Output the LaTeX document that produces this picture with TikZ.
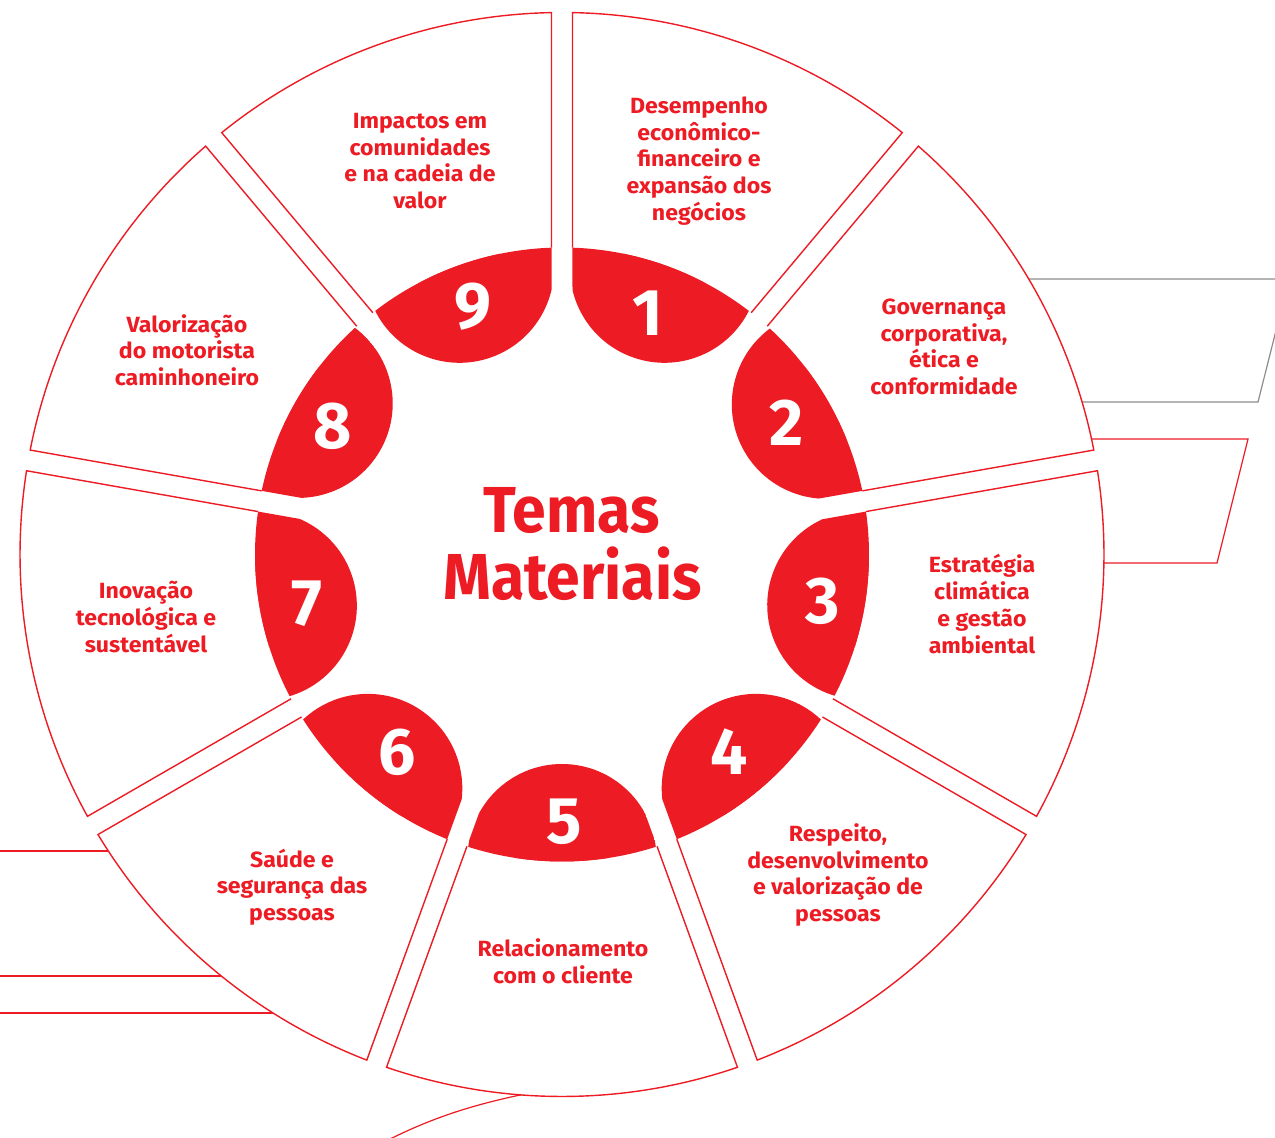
\documentclass[tikz,border=0pt]{standalone}
\usepackage{fontspec}
\setmainfont{Fira Sans}
\newfontfamily\panelfont{Fira Sans}[FakeStretch=1.05]
\newfontfamily\titlefont{Fira Sans}[FakeStretch=0.935]
\definecolor{brandred}{HTML}{ED1C24}
\definecolor{rulegrey}{HTML}{8C8C8C}
\begin{document}
\begin{tikzpicture}[x=1pt,y=1pt,
  seglabel/.style={text=brandred, font=\panelfont\bfseries\fontsize{22}{26.7}\selectfont, align=center, inner sep=0pt},
  numlabel/.style={text=white, font=\bfseries\fontsize{66}{66}\selectfont, inner sep=0pt},
  titlelabel/.style={text=brandred, font=\titlefont\bfseries\fontsize{65}{65}\selectfont, inner sep=0pt, anchor=base},
  outline/.style={draw=brandred, line width=1.4pt, line join=miter},
  deco/.style={line width=1.2pt}]
\useasboundingbox (0,0) rectangle (1275,1138);
\clip (0,0) rectangle (1275,1138);

% decorative rules running behind the wheel
\draw[deco, rulegrey] (1000,859) -- (1289,859) -- (1258,736) -- (1000,736);
\draw[deco, brandred] (1000,699) -- (1248,699) -- (1217,575) -- (1000,575);
\draw[deco, brandred] (0,287) -- (150,287);
\draw[deco, brandred] (0,162) -- (260,162);
\draw[deco, brandred] (0,125) -- (310,125);
\draw[deco, brandred] (386,-3) .. controls (428,18) and (468,33) .. (535,46);

% the wheel: nine panels, each with a red tab on its inner side
\begin{scope}[shift={(562,583.5)}]
\foreach \t/\d in {70/0.3, 30/-0.4, -10/0.4, -50/-0.3, -90/0, -130/0.3, -170/-0.3, 150/0.2, 110/-0.3}{
  \fill[white] ({\t+18.04}:307) -- ({\t+18.89}:542)
     arc[start angle={\t+18.89}, end angle={\t-18.89}, radius=542]
     -- ({\t-18.04}:307)
     arc[start angle={\t-18.04}, end angle={\t+18.04}, radius=307] -- cycle;
  \draw[outline] ({\t+18.04}:307) -- ({\t+18.89}:542)
     arc[start angle={\t+18.89}, end angle={\t-18.89}, radius=542]
     -- ({\t-18.04}:307);
  \begin{scope}
    \clip ({\t+18.04}:307) -- (\t:30.7) -- ({\t-18.04}:307)
       arc[start angle={\t-18.04}, end angle={\t+18.04}, radius=307] -- cycle;
    \begin{scope}[rotate={\t+\d}]
      \fill[brandred] (304,0) circle[radius=94.5];
      \fill[brandred] (304,-94.5) rectangle (330,94.5);
    \end{scope}
  \end{scope}
}
\end{scope}

% tab numbers
\node[numlabel] (n1) at (648,825) {1};
\node[numlabel] (n2) at (787,715) {2};
\node[numlabel] (n3) at (823,537) {3};
\node[numlabel] (n4) at (729,386) {4};
\node[numlabel] (n5) at (564,316) {5};
\node[numlabel] (n6) at (397,386) {6};
\node[numlabel] (n7) at (307,534) {7};
\node[numlabel] (n8) at (333,712) {8};
\node[numlabel] (n9) at (473,831) {9};

% centre title
\node[titlelabel] (temas) at (571.5,605) {Temas};
\node[titlelabel] (materiais) at (572.5,538) {Materiais};

% panel texts
\node[seglabel] (t1) at (699,977) {Desempenho\\econômico-\\financeiro e\\expansão dos\\negócios};
\node[seglabel] (t2) at (944,791) {Governança\\corporativa,\\ética e\\conformidade};
\node[seglabel] (t3) at (982,534) {Estratégia\\climática\\e gestão\\ambiental};
\node[seglabel] (t4) at (838,263) {Respeito,\\desenvolvimento\\e valorização de\\pessoas};
\node[seglabel] (t5) at (563,177) {Relacionamento\\com o cliente};
\node[seglabel] (t6) at (292,251) {Saúde e\\segurança das\\pessoas};
\node[seglabel] (t7) at (146,521) {Inovação\\tecnológica e\\sustentável};
\node[seglabel] (t8) at (187,788) {Valorização\\do motorista\\caminhoneiro};
\node[seglabel] (t9) at (420,977) {Impactos em\\comunidades\\e na cadeia de\\valor};
\end{tikzpicture}
\end{document}
